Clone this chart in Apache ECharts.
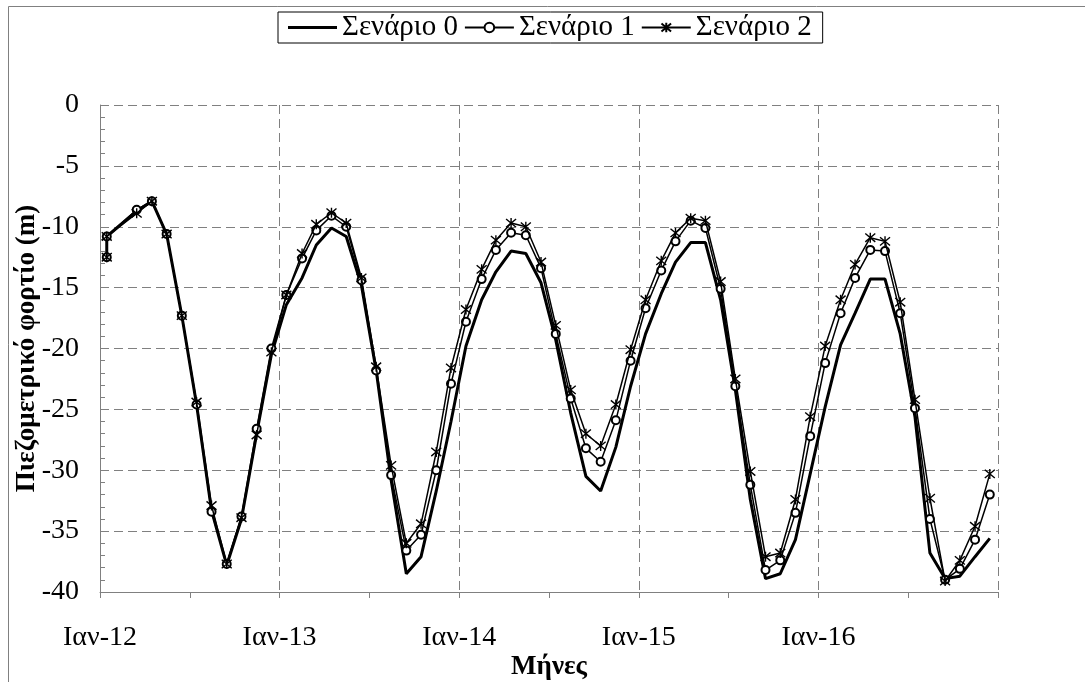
<!DOCTYPE html>
<html><head><meta charset="utf-8">
<script src="https://cdn.jsdelivr.net/npm/echarts@6/dist/echarts.min.js"></script>
<style>html,body{margin:0;padding:0;background:#fff}#c{width:1085px;height:682px}</style>
</head><body><div id="c"></div>
<script>
const seriesNames = ['Σενάριο 0', 'Σενάριο 1', 'Σενάριο 2'];
const dates = [
 '2012-01-15','2012-01-15','2012-03-15','2012-04-15','2012-05-15','2012-06-15','2012-07-15','2012-08-15','2012-09-15','2012-10-15','2012-11-15','2012-12-15',
 '2013-01-15','2013-02-15','2013-03-15','2013-04-15','2013-05-15','2013-06-15','2013-07-15','2013-08-15','2013-09-15','2013-10-15','2013-11-15','2013-12-15',
 '2014-01-15','2014-02-15','2014-03-15','2014-04-15','2014-05-15','2014-06-15','2014-07-15','2014-08-15','2014-09-15','2014-10-15','2014-11-15','2014-12-15',
 '2015-01-15','2015-02-15','2015-03-15','2015-04-15','2015-05-15','2015-06-15','2015-07-15','2015-08-15','2015-09-15','2015-10-15','2015-11-15','2015-12-15',
 '2016-01-15','2016-02-15','2016-03-15','2016-04-15','2016-05-15','2016-06-15','2016-07-15','2016-08-15','2016-09-15','2016-10-15','2016-11-15','2016-12-15'
];
const scenario0 = [
 -12.5,-10.8,-8.7,-7.9,-10.6,-17.3,-24.6,-33.3,-37.8,-34.0,-27.0,-20.5,
 -16.4,-14.2,-11.5,-10.1,-10.8,-14.8,-21.8,-30.8,-38.5,-37.1,-31.7,-26.0,
 -19.8,-16.0,-13.7,-12.0,-12.2,-14.6,-19.3,-25.3,-30.5,-31.7,-28.1,-23.1,
 -18.8,-15.5,-12.9,-11.3,-11.3,-16.0,-23.4,-32.4,-38.9,-38.5,-35.7,-30.3,
 -24.8,-19.7,-17.1,-14.3,-14.3,-18.8,-25.6,-36.8,-38.9,-38.7,-37.1,-35.6
];
const scenario1 = [
 -12.5,-10.8,-8.6,-7.9,-10.6,-17.3,-24.6,-33.4,-37.7,-33.8,-26.6,-20.0,
 -15.6,-12.6,-10.3,-9.1,-10.0,-14.4,-21.8,-30.4,-36.6,-35.3,-30.0,-22.9,
 -17.8,-14.3,-11.9,-10.5,-10.7,-13.4,-18.8,-24.1,-28.2,-29.3,-25.9,-21.0,
 -16.7,-13.6,-11.2,-9.5,-10.1,-15.1,-23.1,-31.2,-38.2,-37.4,-33.5,-27.2,
 -21.2,-17.1,-14.2,-11.9,-12.0,-17.1,-24.9,-34.0,-39.0,-38.1,-35.7,-32.0
];
const scenario2 = [
 -12.5,-10.8,-8.9,-7.9,-10.6,-17.3,-24.4,-32.9,-37.7,-33.9,-27.1,-20.3,
 -15.6,-12.2,-9.8,-8.85,-9.7,-14.2,-21.5,-29.6,-36.0,-34.4,-28.5,-21.6,
 -16.8,-13.5,-11.1,-9.7,-10.0,-12.9,-18.1,-23.4,-27.0,-28.0,-24.6,-20.1,
 -16.0,-12.8,-10.5,-9.3,-9.5,-14.5,-22.5,-30.1,-37.1,-36.8,-32.4,-25.6,
 -19.8,-16.0,-13.1,-10.9,-11.2,-16.2,-24.2,-32.3,-39.1,-37.4,-34.6,-30.3
];
const yearTickLabels = ['Ιαν-12','Ιαν-13','Ιαν-14','Ιαν-15','Ιαν-16'];

function monthsSinceStart(d) {
  const p = d.split('-').map(Number);
  const dim = new Date(p[0], p[1], 0).getDate();
  return (p[0] - 2012) * 12 + (p[1] - 1) + (p[2] - 1) / dim;
}
function toData(vals) { return dates.map((d, i) => [monthsSinceStart(d), vals[i]]); }

const FONT = 'Liberation Serif';
const GRAY = '#808080';
const starPath = 'path://M0,0L10,10M10,0L0,10M5,-1L5,11';

const chart = echarts.init(document.getElementById('c'), null, {renderer: 'canvas'});
chart.setOption({
  animation: false,
  backgroundColor: '#fff',
  graphic: [{
    type: 'rect', silent: true, z: -10,
    shape: {x: 8.5, y: 6.5, width: 1100, height: 700},
    style: {fill: 'none', stroke: GRAY, lineWidth: 1}
  }],
  legend: {
    data: [
      {name: seriesNames[0], icon: 'path://M0,0H50V3H0Z'},
      {name: seriesNames[1]},
      {name: seriesNames[2]}
    ],
    left: 278, top: 12,
    padding: [1, 11, 1, 10],
    borderColor: '#000', borderWidth: 1,
    itemWidth: 49, itemHeight: 12, itemGap: 6,
    textStyle: {fontFamily: FONT, fontSize: 29, color: '#000'}
  },
  grid: {left: 100, right: 87, top: 105, bottom: 90, containLabel: false, outerBoundsMode: 'none'},
  xAxis: [{
    type: 'value', min: 0, max: 60, interval: 6, position: 'bottom',
    axisLine: {onZero: false, lineStyle: {color: GRAY, width: 1}},
    axisTick: {show: true, length: 6, lineStyle: {color: GRAY}},
    splitLine: {show: false},
    axisLabel: {
      formatter: v => (v % 12 === 0 && v / 12 < yearTickLabels.length) ? yearTickLabels[v / 12] : '',
      fontFamily: FONT, fontSize: 28, color: '#000', margin: 32
    },
    name: 'Μήνες', nameLocation: 'middle', nameGap: 62, nameMoveOverlap: false,
    nameTextStyle: {fontFamily: FONT, fontSize: 27, fontWeight: 'bold', color: '#000'}
  }, {
    type: 'value', min: 0, max: 60, interval: 12,
    axisLine: {show: false}, axisTick: {show: false}, axisLabel: {show: false},
    splitLine: {show: true, lineStyle: {color: GRAY, type: [9, 5], width: 1}}
  }],
  yAxis: {
    type: 'value', min: -40, max: 0, interval: 5,
    axisLine: {show: true, lineStyle: {color: GRAY, width: 1}},
    axisTick: {show: true, inside: true, length: 6, lineStyle: {color: GRAY}},
    minorTick: {show: true, splitNumber: 5, length: 5, lineStyle: {color: GRAY}},
    splitLine: {show: true, lineStyle: {color: GRAY, type: [9, 5], width: 1}},
    axisLabel: {fontFamily: FONT, fontSize: 28, color: '#000', margin: 21},
    name: 'Πιεζομετρικό φορτίο (m)', nameLocation: 'middle', nameGap: 59, nameMoveOverlap: false,
    nameTextStyle: {fontFamily: FONT, fontSize: 27, fontWeight: 'bold', color: '#000'}
  },
  series: [{
    name: seriesNames[0], type: 'line', xAxisIndex: 0, data: toData(scenario0),
    symbol: 'none', lineStyle: {color: '#000', width: 3}, itemStyle: {color: '#000'}, z: 3
  }, {
    name: seriesNames[1], type: 'line', xAxisIndex: 0, data: toData(scenario1),
    symbol: 'emptyCircle', symbolSize: 8,
    lineStyle: {color: '#000', width: 1.5}, itemStyle: {color: '#000', borderWidth: 1.2}, z: 4
  }, {
    name: seriesNames[2], type: 'line', xAxisIndex: 0, data: toData(scenario2),
    symbol: starPath, symbolSize: 10,
    lineStyle: {color: '#000', width: 1.5}, itemStyle: {color: '#000', borderColor: '#000', borderWidth: 1.4}, z: 5
  }]
});
</script></body></html>
